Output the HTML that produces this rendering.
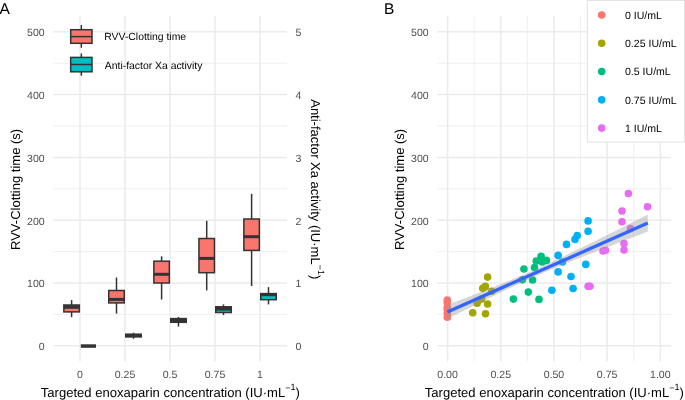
<!DOCTYPE html>
<html><head><meta charset="utf-8"><style>
html,body{margin:0;padding:0;background:#fff;}
svg{display:block;will-change:transform;}
text{font-family:"Liberation Sans",sans-serif;text-rendering:geometricPrecision;}
</style></head><body>
<svg width="685" height="400" viewBox="0 0 685 400">
<rect width="685" height="400" fill="#fff"/>
<line x1="53.0" y1="345.80" x2="287.0" y2="345.80" stroke="#EBEBEB" stroke-width="1.5"/>
<line x1="53.0" y1="314.40" x2="287.0" y2="314.40" stroke="#EBEBEB" stroke-width="0.8"/>
<line x1="53.0" y1="283.00" x2="287.0" y2="283.00" stroke="#EBEBEB" stroke-width="1.5"/>
<line x1="53.0" y1="251.60" x2="287.0" y2="251.60" stroke="#EBEBEB" stroke-width="0.8"/>
<line x1="53.0" y1="220.20" x2="287.0" y2="220.20" stroke="#EBEBEB" stroke-width="1.5"/>
<line x1="53.0" y1="188.80" x2="287.0" y2="188.80" stroke="#EBEBEB" stroke-width="0.8"/>
<line x1="53.0" y1="157.40" x2="287.0" y2="157.40" stroke="#EBEBEB" stroke-width="1.5"/>
<line x1="53.0" y1="126.00" x2="287.0" y2="126.00" stroke="#EBEBEB" stroke-width="0.8"/>
<line x1="53.0" y1="94.60" x2="287.0" y2="94.60" stroke="#EBEBEB" stroke-width="1.5"/>
<line x1="53.0" y1="63.20" x2="287.0" y2="63.20" stroke="#EBEBEB" stroke-width="0.8"/>
<line x1="53.0" y1="31.80" x2="287.0" y2="31.80" stroke="#EBEBEB" stroke-width="1.5"/>
<line x1="80.00" y1="16.0" x2="80.00" y2="361.5" stroke="#EBEBEB" stroke-width="1.5"/>
<line x1="125.00" y1="16.0" x2="125.00" y2="361.5" stroke="#EBEBEB" stroke-width="1.5"/>
<line x1="170.00" y1="16.0" x2="170.00" y2="361.5" stroke="#EBEBEB" stroke-width="1.5"/>
<line x1="215.00" y1="16.0" x2="215.00" y2="361.5" stroke="#EBEBEB" stroke-width="1.5"/>
<line x1="260.00" y1="16.0" x2="260.00" y2="361.5" stroke="#EBEBEB" stroke-width="1.5"/>
<line x1="437.0" y1="345.80" x2="671.0" y2="345.80" stroke="#EBEBEB" stroke-width="1.5"/>
<line x1="437.0" y1="314.40" x2="671.0" y2="314.40" stroke="#EBEBEB" stroke-width="0.8"/>
<line x1="437.0" y1="283.00" x2="671.0" y2="283.00" stroke="#EBEBEB" stroke-width="1.5"/>
<line x1="437.0" y1="251.60" x2="671.0" y2="251.60" stroke="#EBEBEB" stroke-width="0.8"/>
<line x1="437.0" y1="220.20" x2="671.0" y2="220.20" stroke="#EBEBEB" stroke-width="1.5"/>
<line x1="437.0" y1="188.80" x2="671.0" y2="188.80" stroke="#EBEBEB" stroke-width="0.8"/>
<line x1="437.0" y1="157.40" x2="671.0" y2="157.40" stroke="#EBEBEB" stroke-width="1.5"/>
<line x1="437.0" y1="126.00" x2="671.0" y2="126.00" stroke="#EBEBEB" stroke-width="0.8"/>
<line x1="437.0" y1="94.60" x2="671.0" y2="94.60" stroke="#EBEBEB" stroke-width="1.5"/>
<line x1="437.0" y1="63.20" x2="671.0" y2="63.20" stroke="#EBEBEB" stroke-width="0.8"/>
<line x1="437.0" y1="31.80" x2="671.0" y2="31.80" stroke="#EBEBEB" stroke-width="1.5"/>
<line x1="474.19" y1="16.0" x2="474.19" y2="361.5" stroke="#EBEBEB" stroke-width="0.8"/>
<line x1="527.36" y1="16.0" x2="527.36" y2="361.5" stroke="#EBEBEB" stroke-width="0.8"/>
<line x1="580.54" y1="16.0" x2="580.54" y2="361.5" stroke="#EBEBEB" stroke-width="0.8"/>
<line x1="633.71" y1="16.0" x2="633.71" y2="361.5" stroke="#EBEBEB" stroke-width="0.8"/>
<line x1="447.60" y1="16.0" x2="447.60" y2="361.5" stroke="#EBEBEB" stroke-width="1.5"/>
<line x1="500.78" y1="16.0" x2="500.78" y2="361.5" stroke="#EBEBEB" stroke-width="1.5"/>
<line x1="553.95" y1="16.0" x2="553.95" y2="361.5" stroke="#EBEBEB" stroke-width="1.5"/>
<line x1="607.12" y1="16.0" x2="607.12" y2="361.5" stroke="#EBEBEB" stroke-width="1.5"/>
<line x1="660.30" y1="16.0" x2="660.30" y2="361.5" stroke="#EBEBEB" stroke-width="1.5"/>
<text x="44.7" y="350.15" font-family="Liberation Sans, sans-serif" font-size="10.55" fill="#4D4D4D" text-anchor="end">0</text>
<text x="428.7" y="350.15" font-family="Liberation Sans, sans-serif" font-size="10.55" fill="#4D4D4D" text-anchor="end">0</text>
<text x="295.5" y="350.15" font-family="Liberation Sans, sans-serif" font-size="10.55" fill="#4D4D4D">0</text>
<text x="44.7" y="287.35" font-family="Liberation Sans, sans-serif" font-size="10.55" fill="#4D4D4D" text-anchor="end">100</text>
<text x="428.7" y="287.35" font-family="Liberation Sans, sans-serif" font-size="10.55" fill="#4D4D4D" text-anchor="end">100</text>
<text x="295.5" y="287.35" font-family="Liberation Sans, sans-serif" font-size="10.55" fill="#4D4D4D">1</text>
<text x="44.7" y="224.55" font-family="Liberation Sans, sans-serif" font-size="10.55" fill="#4D4D4D" text-anchor="end">200</text>
<text x="428.7" y="224.55" font-family="Liberation Sans, sans-serif" font-size="10.55" fill="#4D4D4D" text-anchor="end">200</text>
<text x="295.5" y="224.55" font-family="Liberation Sans, sans-serif" font-size="10.55" fill="#4D4D4D">2</text>
<text x="44.7" y="161.75" font-family="Liberation Sans, sans-serif" font-size="10.55" fill="#4D4D4D" text-anchor="end">300</text>
<text x="428.7" y="161.75" font-family="Liberation Sans, sans-serif" font-size="10.55" fill="#4D4D4D" text-anchor="end">300</text>
<text x="295.5" y="161.75" font-family="Liberation Sans, sans-serif" font-size="10.55" fill="#4D4D4D">3</text>
<text x="44.7" y="98.95" font-family="Liberation Sans, sans-serif" font-size="10.55" fill="#4D4D4D" text-anchor="end">400</text>
<text x="428.7" y="98.95" font-family="Liberation Sans, sans-serif" font-size="10.55" fill="#4D4D4D" text-anchor="end">400</text>
<text x="295.5" y="98.95" font-family="Liberation Sans, sans-serif" font-size="10.55" fill="#4D4D4D">4</text>
<text x="44.7" y="36.15" font-family="Liberation Sans, sans-serif" font-size="10.55" fill="#4D4D4D" text-anchor="end">500</text>
<text x="428.7" y="36.15" font-family="Liberation Sans, sans-serif" font-size="10.55" fill="#4D4D4D" text-anchor="end">500</text>
<text x="295.5" y="36.15" font-family="Liberation Sans, sans-serif" font-size="10.55" fill="#4D4D4D">5</text>
<text x="80" y="378.1" font-family="Liberation Sans, sans-serif" font-size="10.55" fill="#4D4D4D" text-anchor="middle">0</text>
<text x="125" y="378.1" font-family="Liberation Sans, sans-serif" font-size="10.55" fill="#4D4D4D" text-anchor="middle">0.25</text>
<text x="170" y="378.1" font-family="Liberation Sans, sans-serif" font-size="10.55" fill="#4D4D4D" text-anchor="middle">0.5</text>
<text x="215" y="378.1" font-family="Liberation Sans, sans-serif" font-size="10.55" fill="#4D4D4D" text-anchor="middle">0.75</text>
<text x="260" y="378.1" font-family="Liberation Sans, sans-serif" font-size="10.55" fill="#4D4D4D" text-anchor="middle">1</text>
<text x="447.60" y="378.1" font-family="Liberation Sans, sans-serif" font-size="10.55" fill="#4D4D4D" text-anchor="middle">0.00</text>
<text x="500.78" y="378.1" font-family="Liberation Sans, sans-serif" font-size="10.55" fill="#4D4D4D" text-anchor="middle">0.25</text>
<text x="553.95" y="378.1" font-family="Liberation Sans, sans-serif" font-size="10.55" fill="#4D4D4D" text-anchor="middle">0.50</text>
<text x="607.12" y="378.1" font-family="Liberation Sans, sans-serif" font-size="10.55" fill="#4D4D4D" text-anchor="middle">0.75</text>
<text x="660.30" y="378.1" font-family="Liberation Sans, sans-serif" font-size="10.55" fill="#4D4D4D" text-anchor="middle">1.00</text>
<text x="170.4" y="396.6" font-family="Liberation Sans, sans-serif" font-size="13.05" fill="#000" text-anchor="middle">Targeted enoxaparin concentration (IU·mL<tspan font-size="9.1" dy="-5.35">−</tspan><tspan font-size="9.1" dy="-0.95">1</tspan><tspan dy="6.3">)</tspan></text>
<text x="554.4" y="396.6" font-family="Liberation Sans, sans-serif" font-size="13.05" fill="#000" text-anchor="middle">Targeted enoxaparin concentration (IU·mL<tspan font-size="9.1" dy="-5.35">−</tspan><tspan font-size="9.1" dy="-0.95">1</tspan><tspan dy="6.3">)</tspan></text>
<text transform="translate(19.5,189.4) rotate(-90)" font-family="Liberation Sans, sans-serif" font-size="13" fill="#000" text-anchor="middle">RVV-Clotting time (s)</text>
<text transform="translate(403.5,189.4) rotate(-90)" font-family="Liberation Sans, sans-serif" font-size="13" fill="#000" text-anchor="middle">RVV-Clotting time (s)</text>
<text transform="translate(311.3,189.3) rotate(90)" font-family="Liberation Sans, sans-serif" font-size="13" fill="#000" text-anchor="middle">Anti-factor Xa activity (IU·mL<tspan font-size="9.1" dy="-5.35">−</tspan><tspan font-size="9.1" dy="-0.95">1</tspan><tspan dy="6.3">)</tspan></text>
<text x="-0.6" y="14" font-family="Liberation Sans, sans-serif" font-size="15.5" fill="#000">A</text>
<text x="384.1" y="14.1" font-family="Liberation Sans, sans-serif" font-size="15.5" fill="#000">B</text>
<line x1="71.6" y1="300.1" x2="71.6" y2="305.0" stroke="#333333" stroke-width="1.5"/>
<line x1="71.6" y1="311.9" x2="71.6" y2="317.2" stroke="#333333" stroke-width="1.5"/>
<rect x="63.85" y="305.0" width="15.50" height="6.90" fill="#F8766D" stroke="#333333" stroke-width="1.5"/>
<line x1="63.85" y1="307.0" x2="79.35" y2="307.0" stroke="#333333" stroke-width="3.6"/>
<line x1="116.5" y1="277.5" x2="116.5" y2="290.5" stroke="#333333" stroke-width="1.5"/>
<line x1="116.5" y1="302.9" x2="116.5" y2="313.6" stroke="#333333" stroke-width="1.5"/>
<rect x="108.75" y="290.5" width="15.50" height="12.40" fill="#F8766D" stroke="#333333" stroke-width="1.5"/>
<line x1="108.75" y1="299.4" x2="124.25" y2="299.4" stroke="#333333" stroke-width="3.0"/>
<line x1="161.6" y1="256.3" x2="161.6" y2="261.2" stroke="#333333" stroke-width="1.5"/>
<line x1="161.6" y1="283.0" x2="161.6" y2="299.5" stroke="#333333" stroke-width="1.5"/>
<rect x="153.85" y="261.2" width="15.50" height="21.80" fill="#F8766D" stroke="#333333" stroke-width="1.5"/>
<line x1="153.85" y1="274.3" x2="169.35" y2="274.3" stroke="#333333" stroke-width="3.0"/>
<line x1="206.7" y1="220.8" x2="206.7" y2="238.5" stroke="#333333" stroke-width="1.5"/>
<line x1="206.7" y1="272.7" x2="206.7" y2="290.4" stroke="#333333" stroke-width="1.5"/>
<rect x="198.95" y="238.5" width="15.50" height="34.20" fill="#F8766D" stroke="#333333" stroke-width="1.5"/>
<line x1="198.95" y1="258.4" x2="214.45" y2="258.4" stroke="#333333" stroke-width="3.0"/>
<line x1="251.6" y1="193.8" x2="251.6" y2="219.0" stroke="#333333" stroke-width="1.5"/>
<line x1="251.6" y1="250.4" x2="251.6" y2="286.0" stroke="#333333" stroke-width="1.5"/>
<rect x="243.85" y="219.0" width="15.50" height="31.40" fill="#F8766D" stroke="#333333" stroke-width="1.5"/>
<line x1="243.85" y1="236.7" x2="259.35" y2="236.7" stroke="#333333" stroke-width="3.0"/>
<line x1="80.8" y1="346.05" x2="96.0" y2="346.05" stroke="#333333" stroke-width="3.5"/>
<line x1="133.5" y1="332.75" x2="133.5" y2="334.2" stroke="#333333" stroke-width="1.5"/>
<line x1="133.5" y1="336.9" x2="133.5" y2="338.75" stroke="#333333" stroke-width="1.5"/>
<rect x="125.75" y="334.2" width="15.50" height="2.70" fill="#00BFC4" stroke="#333333" stroke-width="1.5"/>
<line x1="125.75" y1="335.5" x2="141.25" y2="335.5" stroke="#333333" stroke-width="3.0"/>
<line x1="178.5" y1="317.0" x2="178.5" y2="318.6" stroke="#333333" stroke-width="1.5"/>
<line x1="178.5" y1="322.3" x2="178.5" y2="326.6" stroke="#333333" stroke-width="1.5"/>
<rect x="170.75" y="318.6" width="15.50" height="3.70" fill="#00BFC4" stroke="#333333" stroke-width="1.5"/>
<line x1="170.75" y1="320.5" x2="186.25" y2="320.5" stroke="#333333" stroke-width="3.0"/>
<line x1="223.5" y1="304.4" x2="223.5" y2="306.8" stroke="#333333" stroke-width="1.5"/>
<line x1="223.5" y1="312.5" x2="223.5" y2="315.1" stroke="#333333" stroke-width="1.5"/>
<rect x="215.75" y="306.8" width="15.50" height="5.70" fill="#00BFC4" stroke="#333333" stroke-width="1.5"/>
<line x1="215.75" y1="308.7" x2="231.25" y2="308.7" stroke="#333333" stroke-width="3.8"/>
<line x1="268.5" y1="287.1" x2="268.5" y2="293.6" stroke="#333333" stroke-width="1.5"/>
<line x1="268.5" y1="299.7" x2="268.5" y2="304.4" stroke="#333333" stroke-width="1.5"/>
<rect x="260.75" y="293.6" width="15.50" height="6.10" fill="#00BFC4" stroke="#333333" stroke-width="1.5"/>
<line x1="260.75" y1="294.7" x2="276.25" y2="294.7" stroke="#333333" stroke-width="3.0"/>
<line x1="81.35" y1="25.0" x2="81.35" y2="29.7" stroke="#333333" stroke-width="1.5"/>
<line x1="81.35" y1="43.3" x2="81.35" y2="47.7" stroke="#333333" stroke-width="1.5"/>
<rect x="70.70" y="29.7" width="21.30" height="13.60" fill="#F8766D" stroke="#333333" stroke-width="1.5"/>
<line x1="70.70" y1="36.6" x2="92.00" y2="36.6" stroke="#333333" stroke-width="1.5"/>
<line x1="81.35" y1="53.5" x2="81.35" y2="57.4" stroke="#333333" stroke-width="1.5"/>
<line x1="81.35" y1="71.8" x2="81.35" y2="75.7" stroke="#333333" stroke-width="1.5"/>
<rect x="70.70" y="57.4" width="21.30" height="14.40" fill="#00BFC4" stroke="#333333" stroke-width="1.5"/>
<line x1="70.70" y1="64.5" x2="92.00" y2="64.5" stroke="#333333" stroke-width="1.5"/>
<text x="104.3" y="40.4" font-family="Liberation Sans, sans-serif" font-size="10.4" fill="#000">RVV-Clotting time</text>
<text x="104.8" y="68.5" font-family="Liberation Sans, sans-serif" font-size="10.4" fill="#000">Anti-factor Xa activity</text>
<circle cx="447.3" cy="300.1" r="3.8" fill="#F8766D"/>
<circle cx="447.3" cy="302.5" r="3.8" fill="#F8766D"/>
<circle cx="447.3" cy="307.3" r="3.8" fill="#F8766D"/>
<circle cx="447.3" cy="309.5" r="3.8" fill="#F8766D"/>
<circle cx="447.3" cy="313.2" r="3.8" fill="#F8766D"/>
<circle cx="447.3" cy="317.3" r="3.8" fill="#F8766D"/>
<circle cx="487.6" cy="277.1" r="3.8" fill="#A3A500"/>
<circle cx="485.4" cy="286.4" r="3.8" fill="#A3A500"/>
<circle cx="482.75" cy="288.25" r="3.8" fill="#A3A500"/>
<circle cx="491.75" cy="291.25" r="3.8" fill="#A3A500"/>
<circle cx="481.6" cy="299.1" r="3.8" fill="#A3A500"/>
<circle cx="477.1" cy="303.25" r="3.8" fill="#A3A500"/>
<circle cx="487.6" cy="304" r="3.8" fill="#A3A500"/>
<circle cx="472.75" cy="312.75" r="3.8" fill="#A3A500"/>
<circle cx="485.5" cy="313.75" r="3.8" fill="#A3A500"/>
<circle cx="541.1" cy="256.25" r="3.8" fill="#00BF7D"/>
<circle cx="546.4" cy="260.4" r="3.8" fill="#00BF7D"/>
<circle cx="536.25" cy="261.1" r="3.8" fill="#00BF7D"/>
<circle cx="542.25" cy="261.9" r="3.8" fill="#00BF7D"/>
<circle cx="534.5" cy="267.6" r="3.8" fill="#00BF7D"/>
<circle cx="523.9" cy="269" r="3.8" fill="#00BF7D"/>
<circle cx="522.4" cy="279.7" r="3.8" fill="#00BF7D"/>
<circle cx="532.6" cy="280" r="3.8" fill="#00BF7D"/>
<circle cx="528.3" cy="292.1" r="3.8" fill="#00BF7D"/>
<circle cx="513.4" cy="299.1" r="3.8" fill="#00BF7D"/>
<circle cx="539" cy="299.4" r="3.8" fill="#00BF7D"/>
<circle cx="588.1" cy="220.9" r="3.8" fill="#00B0F6"/>
<circle cx="588.1" cy="231.25" r="3.8" fill="#00B0F6"/>
<circle cx="577.25" cy="235.6" r="3.8" fill="#00B0F6"/>
<circle cx="575" cy="239.4" r="3.8" fill="#00B0F6"/>
<circle cx="566.5" cy="244.4" r="3.8" fill="#00B0F6"/>
<circle cx="558.1" cy="255.4" r="3.8" fill="#00B0F6"/>
<circle cx="562.5" cy="262" r="3.8" fill="#00B0F6"/>
<circle cx="585.8" cy="264.4" r="3.8" fill="#00B0F6"/>
<circle cx="558.1" cy="271.9" r="3.8" fill="#00B0F6"/>
<circle cx="571" cy="276.5" r="3.8" fill="#00B0F6"/>
<circle cx="551.9" cy="290.3" r="3.8" fill="#00B0F6"/>
<circle cx="573.1" cy="288.5" r="3.8" fill="#00B0F6"/>
<circle cx="628.4" cy="193.5" r="3.8" fill="#E76BF3"/>
<circle cx="647.5" cy="206.7" r="3.8" fill="#E76BF3"/>
<circle cx="622" cy="211" r="3.8" fill="#E76BF3"/>
<circle cx="622" cy="221.7" r="3.8" fill="#E76BF3"/>
<circle cx="630.4" cy="228.6" r="3.8" fill="#E76BF3"/>
<circle cx="624" cy="243.5" r="3.8" fill="#E76BF3"/>
<circle cx="624" cy="250" r="3.8" fill="#E76BF3"/>
<circle cx="603" cy="251" r="3.8" fill="#E76BF3"/>
<circle cx="605.5" cy="250.3" r="3.8" fill="#E76BF3"/>
<circle cx="588.1" cy="286.25" r="3.8" fill="#E76BF3"/>
<circle cx="590" cy="286.25" r="3.8" fill="#E76BF3"/>
<polygon points="447.40,304.94 450.74,303.66 454.08,302.37 457.42,301.09 460.76,299.80 464.10,298.50 467.44,297.21 470.78,295.91 474.12,294.61 477.46,293.30 480.80,291.99 484.14,290.68 487.48,289.35 490.82,288.03 494.16,286.70 497.50,285.35 500.84,284.01 504.18,282.65 507.52,281.28 510.86,279.91 514.20,278.52 517.54,277.12 520.88,275.71 524.22,274.28 527.56,272.84 530.90,271.39 534.24,269.92 537.58,268.44 540.92,266.94 544.26,265.42 547.60,263.89 550.94,262.35 554.28,260.80 557.62,259.23 560.96,257.65 564.30,256.06 567.64,254.46 570.98,252.86 574.32,251.24 577.66,249.62 581.00,247.99 584.34,246.35 587.68,244.71 591.02,243.06 594.36,241.41 597.70,239.75 601.04,238.09 604.38,236.43 607.72,234.76 611.06,233.09 614.40,231.42 617.74,229.75 621.08,228.07 624.42,226.39 627.76,224.71 631.10,223.03 634.44,221.35 637.78,219.66 641.12,217.98 644.46,216.29 647.80,214.60 647.80,231.60 644.46,232.87 641.12,234.14 637.78,235.42 634.44,236.69 631.10,237.97 627.76,239.25 624.42,240.53 621.08,241.81 617.74,243.09 614.40,244.38 611.06,245.67 607.72,246.96 604.38,248.25 601.04,249.55 597.70,250.85 594.36,252.15 591.02,253.46 587.68,254.77 584.34,256.09 581.00,257.41 577.66,258.74 574.32,260.08 570.98,261.42 567.64,262.78 564.30,264.14 560.96,265.51 557.62,266.89 554.28,268.28 550.94,269.69 547.60,271.11 544.26,272.54 540.92,273.98 537.58,275.44 534.24,276.92 530.90,278.41 527.56,279.92 524.22,281.44 520.88,282.97 517.54,284.52 514.20,286.08 510.86,287.65 507.52,289.24 504.18,290.83 500.84,292.43 497.50,294.05 494.16,295.66 490.82,297.29 487.48,298.93 484.14,300.56 480.80,302.21 477.46,303.86 474.12,305.51 470.78,307.17 467.44,308.83 464.10,310.50 460.76,312.16 457.42,313.83 454.08,315.51 450.74,317.18 447.40,318.86" fill="#999999" fill-opacity="0.4"/>
<line x1="447.4" y1="311.9" x2="647.8" y2="223.1" stroke="#3366FF" stroke-width="3.3"/>
<rect x="587.4" y="0.5" width="97.1" height="141.6" fill="#fff" stroke="#E3E3E3" stroke-width="1"/>
<circle cx="601.7" cy="15.00" r="3.8" fill="#F8766D"/>
<text x="625" y="18.80" font-family="Liberation Sans, sans-serif" font-size="10.55" fill="#000">0 IU/mL</text>
<circle cx="601.7" cy="43.28" r="3.8" fill="#A3A500"/>
<text x="625" y="47.08" font-family="Liberation Sans, sans-serif" font-size="10.55" fill="#000">0.25 IU/mL</text>
<circle cx="601.7" cy="71.56" r="3.8" fill="#00BF7D"/>
<text x="625" y="75.36" font-family="Liberation Sans, sans-serif" font-size="10.55" fill="#000">0.5 IU/mL</text>
<circle cx="601.7" cy="99.84" r="3.8" fill="#00B0F6"/>
<text x="625" y="103.64" font-family="Liberation Sans, sans-serif" font-size="10.55" fill="#000">0.75 IU/mL</text>
<circle cx="601.7" cy="128.12" r="3.8" fill="#E76BF3"/>
<text x="625" y="131.92" font-family="Liberation Sans, sans-serif" font-size="10.55" fill="#000">1 IU/mL</text>
</svg>
</body></html>
